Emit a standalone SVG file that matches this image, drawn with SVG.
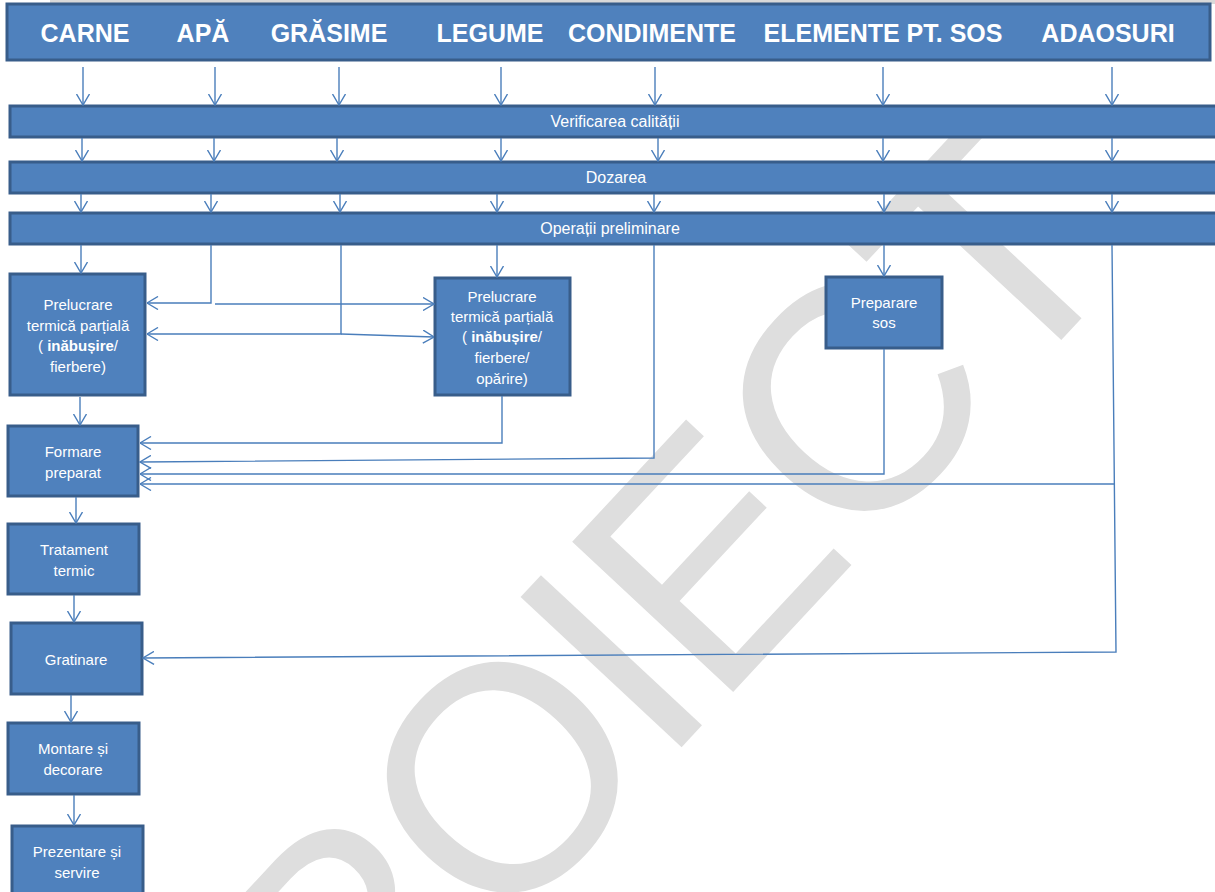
<svg xmlns="http://www.w3.org/2000/svg" width="1215" height="892" viewBox="0 0 1215 892">
<style>
.box{fill:#4f81bd;stroke:#385d8a;stroke-width:3}
.hd{font-family:"Liberation Sans",Arial,sans-serif;font-weight:bold;font-size:25px;fill:#fff;text-anchor:middle}
.bt{font-family:"Liberation Sans",Arial,sans-serif;font-size:15px;fill:#fff;text-anchor:middle}
.bd{font-family:"Liberation Sans",Arial,sans-serif;font-size:16px;fill:#fff;text-anchor:middle}
.c{fill:none;stroke:#4a7ebb;stroke-width:1.4}
.wm{font-family:"Liberation Sans",Arial,sans-serif;font-size:320px;letter-spacing:-10px;fill:#dedede}
</style>
<defs>
<marker id="a" viewBox="0 0 12 14" refX="11.5" refY="7" markerWidth="12" markerHeight="14" markerUnits="userSpaceOnUse" orient="auto"><path d="M0.5,0.5 L11.5,7 L0.5,13.5" fill="none" stroke="#4a7ebb" stroke-width="1.4"/></marker>
</defs>
<rect width="1215" height="892" fill="#fff"/>
<rect x="50" y="0" width="1165" height="4" fill="#d9d9d9"/>
<g id="watermark"><text class="wm" transform="translate(209,1254) rotate(-47)">PROIECT</text></g>

<g id="header"><rect class="box" x="7" y="4" width="1203" height="56"/>
<text class="hd" x="85" y="42">CARNE</text>
<text class="hd" x="203" y="42">APĂ</text>
<text class="hd" x="329" y="42">GRĂSIME</text>
<text class="hd" x="490" y="42">LEGUME</text>
<text class="hd" x="652" y="42">CONDIMENTE</text>
<text class="hd" x="883" y="42">ELEMENTE PT. SOS</text>
<text class="hd" x="1108" y="42">ADAOSURI</text></g>

<g id="verificare"><rect class="box" x="10" y="106" width="1215" height="31"/><text class="bd" x="615" y="127">Verificarea calității</text></g>
<g id="dozare"><rect class="box" x="10" y="162" width="1215" height="31"/><text class="bd" x="616" y="183">Dozarea</text></g>
<g id="operatii"><rect class="box" x="10" y="213" width="1215" height="31"/><text class="bd" x="610" y="234">Operații preliminare</text></g>

<g id="prelucrare1"><rect class="box" x="10" y="274" width="135" height="121"/>
<text class="bt" x="78" y="310">Prelucrare</text>
<text class="bt" x="78" y="331">termică parțială</text>
<text class="bt" x="78" y="351">( <tspan font-weight="bold">inăbușire</tspan>/</text>
<text class="bt" x="78" y="372">fierbere)</text></g>

<g id="prelucrare2"><rect class="box" x="435" y="278" width="135" height="117"/>
<text class="bt" x="502" y="302">Prelucrare</text>
<text class="bt" x="502" y="322">termică parțială</text>
<text class="bt" x="502" y="342">( <tspan font-weight="bold">inăbușire</tspan>/</text>
<text class="bt" x="502" y="363">fierbere/</text>
<text class="bt" x="502" y="384">opărire)</text></g>

<g id="sos"><rect class="box" x="826" y="277" width="116" height="71"/>
<text class="bt" x="884" y="308">Preparare</text>
<text class="bt" x="884" y="328">sos</text></g>

<g id="formare"><rect class="box" x="8" y="426" width="130" height="70"/>
<text class="bt" x="73" y="457">Formare</text>
<text class="bt" x="73" y="478">preparat</text></g>

<g id="tratament"><rect class="box" x="8" y="524" width="131" height="70"/>
<text class="bt" x="74" y="555">Tratament</text>
<text class="bt" x="74" y="576">termic</text></g>

<g id="gratinare"><rect class="box" x="11" y="623" width="131" height="71"/>
<text class="bt" x="76" y="665">Gratinare</text></g>

<g id="montare"><rect class="box" x="8" y="723" width="131" height="71"/>
<text class="bt" x="73" y="754">Montare și</text>
<text class="bt" x="73" y="775">decorare</text></g>

<g id="prezentare"><rect class="box" x="12" y="826" width="131" height="80"/>
<text class="bt" x="77" y="857">Prezentare și</text>
<text class="bt" x="77" y="878">servire</text></g>

<g id="connectors" class="c" marker-end="url(#a)">
<path d="M83,67 V105"/><path d="M215,67 V105"/><path d="M339,67 V105"/><path d="M501,67 V105"/><path d="M655,67 V105"/><path d="M883,67 V105"/><path d="M1112,67 V105"/>
<path d="M82,138 V161"/><path d="M214,138 V161"/><path d="M337,138 V161"/><path d="M501,138 V161"/><path d="M658,138 V161"/><path d="M883,138 V161"/><path d="M1112,138 V161"/>
<path d="M81,194 V212"/><path d="M211,194 V212"/><path d="M340,194 V212"/><path d="M497,194 V212"/><path d="M654,194 V212"/><path d="M884,194 V212"/><path d="M1112,194 V212"/>
<path d="M81,245 V273"/>
<path d="M211,245 V303 H147"/>
<path d="M215,304 H434"/>
<path d="M341,245 V334 H147"/>
<path d="M341,334 L434,337"/>
<path d="M497,245 V277"/>
<path d="M884,245 V276"/>
<path d="M80,397 V425"/>
<path d="M502,396 V443 H140"/>
<path d="M654,245 V458 L140,462"/>
<path d="M884,349 V474 H140"/>
<path d="M1112,245 L1116,652 L143,658"/>
<path d="M1115,484 H140"/>
<path d="M76,497 V523"/>
<path d="M74,595 V622"/>
<path d="M71,695 V722"/>
<path d="M74,795 V825"/>
</g>
</svg>
